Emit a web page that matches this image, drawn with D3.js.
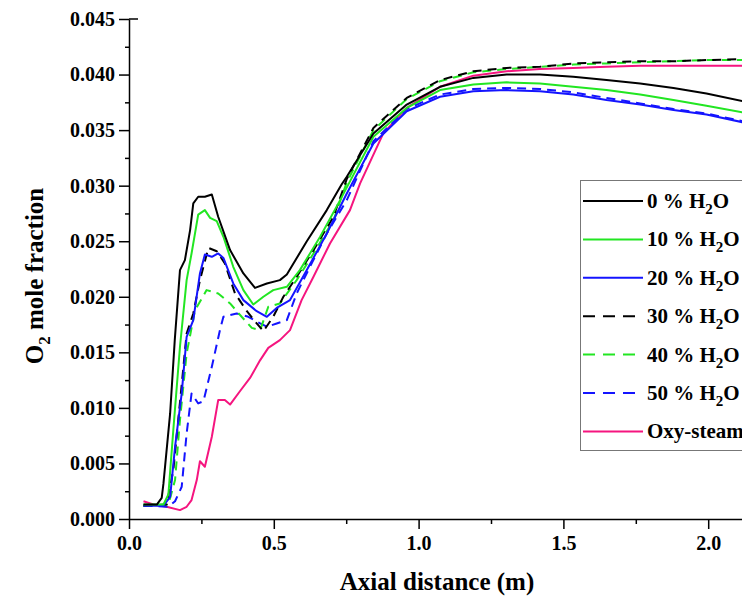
<!DOCTYPE html>
<html>
<head>
<meta charset="utf-8">
<script src="https://cdnjs.cloudflare.com/ajax/libs/d3/7.8.5/d3.min.js"></script>
<style>
  body{margin:0;background:#fff;}
  text{font-family:"Liberation Serif","Times New Roman",serif;font-weight:bold;fill:#000;}
</style>
</head>
<body>
<svg id="chart" width="742" height="599"></svg>
<script>
// series data (x in m, y = O2 mole fraction)
var h2o0X = [0.05,0.096,0.113,0.119,0.142,0.158,0.176,0.193,0.211,0.222,0.239,0.262,0.286,0.308,0.349,0.395,0.435,0.476,0.521,0.545,0.614,0.683,0.734,0.752,0.844,0.959,1.074,1.189,1.304,1.419,1.534,1.649,1.765,1.88,1.994,2.12];
var h2o0Y = [0.0013,0.0013,0.0019,0.0032,0.0095,0.0161,0.0224,0.0233,0.0260,0.0284,0.0290,0.0290,0.0292,0.0272,0.0242,0.0221,0.0208,0.0212,0.0215,0.0220,0.0250,0.0278,0.0301,0.0308,0.0347,0.0373,0.0389,0.0397,0.0400,0.0400,0.0398,0.0395,0.0392,0.0388,0.0383,0.0376];

var h2o10X = [0.05,0.119,0.136,0.153,0.176,0.199,0.216,0.239,0.262,0.280,0.303,0.326,0.360,0.395,0.429,0.464,0.498,0.545,0.590,0.660,0.729,0.844,0.959,1.074,1.189,1.304,1.419,1.534,1.649,1.765,1.88,1.994,2.12];
var h2o10Y = [0.0013,0.0013,0.0022,0.0080,0.0155,0.0215,0.0239,0.0274,0.0278,0.0271,0.0268,0.0254,0.0227,0.0206,0.0193,0.0200,0.0206,0.0209,0.0224,0.0254,0.0287,0.0344,0.0370,0.0386,0.0391,0.0393,0.0392,0.0389,0.0386,0.0382,0.0377,0.0372,0.0366];

var h2o20X = [0.05,0.119,0.142,0.159,0.182,0.199,0.222,0.245,0.262,0.286,0.308,0.326,0.360,0.395,0.441,0.476,0.510,0.556,0.614,0.683,0.752,0.844,0.959,1.074,1.189,1.304,1.419,1.534,1.649,1.765,1.88,1.994,2.12];
var h2o20Y = [0.0012,0.0012,0.0020,0.0065,0.0113,0.0164,0.0179,0.0221,0.0238,0.0236,0.0239,0.0235,0.0212,0.0197,0.0187,0.0182,0.0190,0.0197,0.0224,0.0257,0.0293,0.0338,0.0367,0.0380,0.0385,0.0386,0.0385,0.0382,0.0377,0.0373,0.0368,0.0364,0.0357];

var h2o30X = [0.05,0.13,0.153,0.170,0.188,0.199,0.222,0.245,0.274,0.303,0.331,0.366,0.407,0.441,0.464,0.498,0.533,0.579,0.637,0.706,0.752,0.844,0.959,1.074,1.189,1.304,1.419,1.534,1.649,1.765,1.88,1.994,2.12];
var h2o30Y = [0.0012,0.0013,0.0044,0.0089,0.0137,0.0167,0.0185,0.0215,0.0244,0.0241,0.0230,0.0203,0.0187,0.0176,0.0169,0.0182,0.0200,0.0218,0.0242,0.0272,0.0306,0.0352,0.0379,0.0395,0.0403,0.0406,0.0407,0.0410,0.0411,0.0412,0.0412,0.0413,0.0414];

var h2o40X = [0.05,0.136,0.159,0.176,0.199,0.228,0.268,0.308,0.349,0.389,0.424,0.453,0.481,0.521,0.579,0.637,0.706,0.752,0.844,0.959,1.074,1.189,1.304,1.419,1.534,1.649,1.765,1.88,1.994,2.12];
var h2o40Y = [0.0012,0.0013,0.0035,0.0089,0.0149,0.0188,0.0206,0.0203,0.0194,0.0182,0.0172,0.0170,0.0191,0.0194,0.0215,0.0239,0.0269,0.0303,0.0350,0.0378,0.0394,0.0402,0.0405,0.0407,0.0409,0.0410,0.0411,0.0412,0.0413,0.0413];

var h2o50X = [0.05,0.136,0.159,0.182,0.199,0.216,0.239,0.257,0.286,0.314,0.326,0.372,0.412,0.453,0.476,0.510,0.545,0.579,0.625,0.683,0.752,0.844,0.959,1.074,1.189,1.304,1.419,1.534,1.649,1.765,1.88,1.994,2.12];
var h2o50Y = [0.0012,0.0011,0.0016,0.0029,0.0077,0.0113,0.0104,0.0106,0.0137,0.0170,0.0182,0.0185,0.0182,0.0176,0.0173,0.0176,0.0179,0.0203,0.0227,0.0257,0.0287,0.0340,0.0369,0.0382,0.0387,0.0388,0.0387,0.0384,0.0379,0.0374,0.0369,0.0365,0.0358];

var oxyX = [0.05,0.084,0.130,0.176,0.199,0.216,0.234,0.245,0.262,0.286,0.308,0.331,0.349,0.383,0.418,0.453,0.481,0.521,0.556,0.596,0.637,0.694,0.763,0.798,0.878,0.959,1.074,1.189,1.304,1.419,1.534,1.649,1.765,1.88,2.12];
var oxyY = [0.0016,0.0013,0.0011,0.0008,0.0011,0.0017,0.0035,0.0052,0.0047,0.0074,0.0107,0.0107,0.0103,0.0115,0.0127,0.0143,0.0154,0.0161,0.0170,0.0197,0.0218,0.0248,0.0278,0.0302,0.0347,0.0370,0.0389,0.0399,0.0403,0.0405,0.0406,0.0407,0.0408,0.0408,0.0408];

var seriesNames = ["0 % H", "10 % H", "20 % H", "30 % H", "40 % H", "50 % H", "Oxy-steam"];
var seriesColors = ["#000000", "#22e622", "#1414ff", "#000000", "#22e622", "#1414ff", "#f5157f"];
var seriesDashed = [false, false, false, true, true, true, false];
var xTicks = [0, 0.5, 1.0, 1.5, 2.0];
var yTicks = [0, 0.005, 0.010, 0.015, 0.020, 0.025, 0.030, 0.035, 0.040, 0.045];

var allX = [h2o0X, h2o10X, h2o20X, h2o30X, h2o40X, h2o50X, oxyX];
var allY = [h2o0Y, h2o10Y, h2o20Y, h2o30Y, h2o40Y, h2o50Y, oxyY];

var svg = d3.select("#chart");
svg.append("rect").attr("width", 742).attr("height", 599).attr("fill", "#fff");

var xScale = d3.scaleLinear().domain([0, 2.5]).range([129, 853]);
var yScale = d3.scaleLinear().domain([0, 0.045]).range([519, 19]);

// minor ticks first so the major ones sit on top
svg.append("g").attr("transform", "translate(0,519)")
  .call(d3.axisBottom(xScale).tickValues(d3.range(0.25, 2.6, 0.5)).tickSize(5).tickFormat(""))
  .call(function(g){ g.select(".domain").remove(); g.selectAll("line").attr("stroke-width", 1.5); });
svg.append("g").attr("transform", "translate(129,0)")
  .call(d3.axisLeft(yScale).tickValues(d3.range(0.0025, 0.045, 0.005)).tickSize(4).tickFormat(""))
  .call(function(g){ g.select(".domain").remove(); g.selectAll("line").attr("stroke-width", 1.5); });

var xAxis = svg.append("g").attr("transform", "translate(0,519)")
  .call(d3.axisBottom(xScale).tickValues(xTicks).tickSize(10).tickSizeOuter(0).tickPadding(7).tickFormat(d3.format(".1f")));
var yAxis = svg.append("g").attr("transform", "translate(129,0)")
  .call(d3.axisLeft(yScale).tickValues(yTicks).tickSize(10).tickSizeOuter(0).tickPadding(4).tickFormat(d3.format(".3f")));

[xAxis, yAxis].forEach(function(g){
  g.selectAll("line").attr("stroke", "#000").attr("stroke-width", 1.5);
  g.select(".domain").attr("stroke", "#000").attr("stroke-width", 1.5);
  g.selectAll("text").style("font-size", "20px").style("font-family", "Liberation Serif").style("font-weight", "bold").attr("fill", "#000");
});
// small cap at the top of the y axis
svg.append("line").attr("x1", 129).attr("x2", 138).attr("y1", yScale(0.045)).attr("y2", yScale(0.045))
  .attr("stroke", "#000").attr("stroke-width", 1.5);

var line = d3.line()
  .x(function(d){ return xScale(d[0]); })
  .y(function(d){ return yScale(d[1]); });

// draw oxy-steam first, then dashed, then solid
var order = [6, 5, 4, 3, 2, 1, 0];
order.forEach(function(i){
  var pts = allX[i].map(function(x, j){ return [x, allY[i][j]]; });
  svg.append("path")
    .attr("d", line(pts))
    .attr("fill", "none")
    .attr("stroke", seriesColors[i])
    .attr("stroke-width", 2)
    .attr("stroke-linejoin", "round")
    .attr("stroke-dasharray", seriesDashed[i] ? "9,6" : null);
});

// legend
var legend = svg.append("g");
legend.append("rect").attr("x", 580.5).attr("y", 180.5).attr("width", 200).attr("height", 270)
  .attr("fill", "#fff").attr("stroke", "#777").attr("stroke-width", 1);
seriesNames.forEach(function(name, i){
  var y = 201 + i * 38.4;
  legend.append("line").attr("x1", 583).attr("x2", 643).attr("y1", y).attr("y2", y)
    .attr("stroke", seriesColors[i]).attr("stroke-width", 2)
    .attr("stroke-dasharray", seriesDashed[i] ? "12,8" : null);
  var t = legend.append("text").attr("x", 647).attr("y", y + 7).style("font-size", "21px");
  t.append("tspan").text(name);
  if (i < 6) {
    t.append("tspan").attr("dy", 6).style("font-size", "15px").text("2");
    t.append("tspan").attr("dy", -6).text("O");
  }
});

// axis titles
svg.append("text").attr("x", 437).attr("y", 590).attr("text-anchor", "middle")
  .style("font-size", "25px").text("Axial distance (m)");
var yt = svg.append("text").attr("transform", "translate(43,276) rotate(-90)").attr("text-anchor", "middle")
  .style("font-size", "25px");
yt.append("tspan").text("O");
yt.append("tspan").attr("dy", 7).style("font-size", "17px").text("2");
yt.append("tspan").attr("dy", -7).text(" mole fraction");
</script>
</body>
</html>
